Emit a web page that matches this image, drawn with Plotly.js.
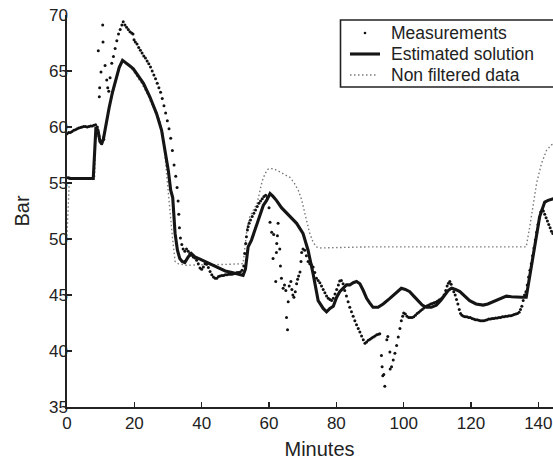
<!DOCTYPE html>
<html>
<head>
<meta charset="utf-8">
<script src="https://cdn.plot.ly/plotly-3.0.1.min.js"></script>
<style>html,body{margin:0;padding:0;overflow:hidden;background:#fff}</style>
</head>
<body>
<div id="chart" style="width:600px;height:460px"></div>
<script>
// ---- Measurements (dots) ----
const measT = [0,0.5,1,1.5,2,2.5,3,3.5,4,4.5,5,5.5,6,6.5,7,7.5,8,8.5,
 9.0,9.3,9.5,9.6,9.7,9.9,10.1,10.3,10.6,10.7,10.9,11.3,11.8,12.1,12.4,
 12.8,13.3,13.8,14.3,14.8,15.3,15.8,16.3,16.7,17.2,17.7,18.2,18.7,19.2,19.6,19.9,20.3,20.8,21.3,21.8,22.3,22.8,23.3,23.8,24.3,24.8,25.3,25.8,26.3,26.8,27.3,27.8,28.3,28.8,29.3,29.8,30.3,30.8,31.3,31.8,32.3,32.7,33.0,33.2,33.4,33.7,34.1,34.5,
 35.0,35.5,36.0,36.5,37.0,37.5,38.0,38.5,39.0,39.5,40.0,40.5,41.0,41.5,42.0,42.5,43.0,43.5,44.0,44.5,45.0,45.5,46.0,46.5,47.0,47.5,48.0,48.5,49.0,49.5,50.0,50.5,51.0,51.5,52.0,52.5,
 52.8,53.1,53.3,53.6,53.8,54.1,54.5,55.0,55.5,56.0,56.5,57.0,57.5,58.0,58.5,59.0,59.5,60.0,
 60.3,60.8,61.2,61.4,62.0,62.2,62.3,62.5,62.7,63.2,63.4,63.7,64.2,64.6,65.0,65.2,65.5,65.7,66.0,66.5,66.8,67.1,67.4,67.8,68.2,68.5,68.8,69.2,69.5,69.7,70.1,70.6,71.1,71.6,72.1,72.6,73.1,73.6,74.1,74.6,75.1,75.6,76.1,76.6,77.1,77.6,78.1,78.6,79.1,79.6,80.1,80.6,81.0,81.5,82.0,82.5,83.0,83.5,84.0,84.5,85.0,85.5,86.0,86.5,87.0,87.5,88.0,88.5,89.0,89.5,90.0,90.5,91.0,91.5,92.0,92.5,92.9,
 93.4,93.6,93.8,94.1,94.4,95.0,95.3,95.9,96.0,
 96.4,96.9,97.4,97.9,98.4,98.9,99.3,99.7,100.0,100.5,101.0,101.5,102.0,102.5,103.0,103.5,104.0,104.5,105.0,105.5,106.0,106.5,107.0,107.5,108.0,108.5,109.0,109.5,110.0,110.5,111.0,111.5,112.0,112.5,112.9,113.3,113.7,114.1,114.5,114.9,115.3,115.7,116.1,116.5,116.9,117.3,117.8,118.3,118.8,119.3,119.8,120.3,120.8,121.3,121.8,122.3,122.8,123.3,123.8,124.3,124.8,125.3,125.8,126.3,126.8,127.3,127.8,128.3,128.8,129.3,129.8,130.3,130.8,131.3,131.8,132.3,132.8,133.3,133.8,134.3,134.7,135.1,135.5,135.9,136.3,136.7,137.1,137.5,137.9,138.3,138.7,139.1,139.5,139.9,140.3,140.7,141.1,141.5,141.9,142.3,142.7,143.1,143.5,143.9,144.3];
const measV = [59.4,59.5,59.5,59.6,59.7,59.75,59.85,59.9,59.95,60.0,60.05,60.05,60.0,60.05,60.1,60.1,60.15,60.2,
 60.0,66.8,59.2,62.7,63.5,58.7,64.9,58.5,69.1,67.6,58.9,65.5,64.2,63.5,63.2,
 64.4,65.7,66.3,67.0,67.7,68.3,68.7,69.1,69.4,69.1,68.9,68.7,68.5,68.4,68.3,67.8,67.6,67.4,67.1,66.85,66.6,66.35,66.15,65.9,65.65,65.35,65.0,64.65,64.3,63.9,63.5,63.1,62.55,61.9,61.25,60.55,59.85,59.0,57.9,56.6,55.6,54.6,53.4,52.2,51.0,50.1,49.5,49.1,
 48.9,49.1,48.9,48.7,48.55,48.4,48.3,48.1,47.8,47.4,47.3,47.5,47.8,47.75,47.45,47.1,46.8,46.6,46.5,46.5,46.65,46.7,46.75,46.75,46.8,46.8,46.85,46.85,46.85,46.9,46.95,47.0,47.0,47.05,47.2,47.6,
 48.7,49.6,50.2,50.8,51.1,51.4,51.7,52.0,52.3,52.6,52.9,53.2,53.4,53.6,53.8,53.9,53.7,52.8,
 51.5,50.6,48.25,50.4,46.2,48.8,49.6,50.3,51.4,49.1,47.6,46.5,45.6,45.9,45.4,43.0,41.9,44.4,45.8,46.2,45.5,45.0,44.8,45.3,46.0,46.4,46.7,47.05,48.0,48.8,49.1,49.0,48.5,48.0,47.8,47.7,47.5,47.0,46.5,46.3,46.1,45.8,45.5,45.2,44.9,44.7,44.6,44.5,44.7,45.1,45.5,45.9,46.25,46.3,46.0,45.4,44.9,44.4,43.9,43.5,43.1,42.7,42.35,42.0,41.7,41.35,41.0,40.7,40.8,40.95,41.05,41.15,41.25,41.35,41.45,41.5,41.55,
 39.6,38.6,37.8,37.9,36.85,41.0,41.3,39.9,38.4,
 38.6,39.2,39.8,40.5,41.25,42.0,42.7,43.1,43.4,43.3,43.1,43.0,43.0,43.0,43.05,43.2,43.35,43.45,43.6,43.7,43.85,43.95,44.05,44.1,44.2,44.25,44.3,44.35,44.45,44.55,44.65,44.75,45.0,45.4,45.8,46.05,46.2,45.95,45.6,45.3,45.0,44.6,44.2,43.7,43.35,43.2,43.1,43.05,43.05,43.0,43.0,42.9,42.85,42.8,42.8,42.75,42.7,42.7,42.7,42.75,42.8,42.85,42.85,42.9,42.9,42.95,42.95,43.0,43.0,43.05,43.05,43.1,43.1,43.15,43.15,43.2,43.25,43.3,43.35,43.45,43.7,44.0,44.5,45.0,45.3,45.9,46.6,47.2,47.8,48.5,49.2,49.9,50.6,51.3,51.9,52.4,52.6,52.5,52.2,51.9,51.6,51.3,51.0,50.7,50.5];

// ---- Estimated solution (thick line) ----
const estT = [0,1,3,5,7,7.8,8.6,9.2,9.8,10.3,10.8,11.5,12.5,13.5,14.5,15.5,16.5,17.5,18.5,19.7,21.2,22.7,24.6,26.6,28.1,29.1,30.1,30.8,31.4,32.1,32.8,33.5,34.2,35.0,36.0,36.9,38.0,39.5,41.0,43.4,45.0,47.0,49.0,51.0,52.3,53.0,53.8,54.8,56.0,57.3,58.3,59.3,60.3,61.2,62.2,63.7,65.2,66.7,68.2,70.1,71.6,73.1,74.6,76.1,77.1,78.1,79.1,80.1,81.0,82.0,83.0,84.0,85.0,86.0,87.0,88.0,89.0,89.9,90.9,92.4,93.9,95.9,97.5,99.3,100.5,101.8,103.0,104.3,105.5,106.8,108.2,109.7,111.0,112.2,113.2,114.2,115.4,116.7,118.0,119.6,121.5,123.6,125.0,126.5,128.5,130.5,132.0,133.5,135.0,136.4,137.4,138.9,140.4,141.9,142.9,144.6];
const estV = [55.5,55.4,55.4,55.4,55.4,55.4,60.0,59.7,58.7,58.5,58.9,60.2,61.7,63.1,64.3,65.3,65.95,65.75,65.5,65.2,64.6,63.9,62.7,61.2,59.7,57.9,56.1,54.35,53.7,50.5,49.0,48.25,48.0,47.9,48.4,48.7,48.4,48.2,48.0,47.65,47.4,47.15,47.0,46.85,46.75,47.3,49.3,49.9,51.0,52.3,53.0,53.45,54.05,53.8,53.45,52.8,52.3,51.8,51.4,50.5,49.0,46.9,44.5,43.8,43.5,43.8,44.0,44.8,45.3,45.6,45.9,45.9,46.1,46.2,46.0,45.4,44.7,44.3,43.9,43.9,44.2,44.7,45.1,45.6,45.5,45.3,44.9,44.5,44.1,43.9,43.9,44.1,44.5,45.0,45.4,45.6,45.5,45.3,44.9,44.5,44.2,44.1,44.2,44.4,44.6,44.9,44.85,44.8,44.8,44.8,46.6,49.6,52.0,53.3,53.45,53.6];

// ---- Non filtered data (dotted grey line) ----
const nfT = [0,0.7,2,4,6,8.2,8.5,9.5,10.0,11.0,13.0,15.0,16.2,17.0,19.2,22.2,24.1,26.1,27.6,28.5,29.3,30.0,30.6,31.3,32.1,33.0,35.5,38,40,43,46,49,52.3,53.0,53.5,54.3,55.5,56.5,57.3,58.0,58.8,59.5,60.3,61.5,63.2,64.5,66.2,67.5,68.7,69.7,71.0,72.0,73.0,74.0,75.0,80,85,90,95,100,105,110,115,120,125,130,134,136.4,137.4,138.4,139.5,140.9,142.4,143.9,144.6];
const nfV = [50.3,55.4,55.4,55.4,55.4,55.4,60.0,59.0,58.6,59.4,62.3,64.6,65.9,65.8,65.2,63.9,62.8,61.4,60.6,59.4,56.6,54.0,52.6,50.2,48.0,47.8,47.65,47.7,47.7,47.7,47.7,47.75,47.8,49.5,51.0,52.0,52.6,53.2,54.3,55.2,55.8,56.2,56.3,56.25,56.0,55.8,55.5,55.0,54.35,53.5,51.8,50.6,49.8,49.3,49.2,49.25,49.25,49.3,49.3,49.3,49.3,49.3,49.3,49.3,49.3,49.3,49.3,49.3,51.0,52.9,55.0,56.7,57.9,58.4,58.5];

const seriesNames = ['Measurements', 'Estimated solution', 'Non filtered data'];
const xTicks = [0,20,40,60,80,100,120,140];
const yTicks = [35,40,45,50,55,60,65,70];

const FONT = 'Liberation Sans, Arial, Helvetica, sans-serif';
const INK = '#222';
const NF_LINE = {color: '#7a7a7a', width: 1.4, dash: '1.5px,2.5px'};
const EST_LINE = {color: '#151515', width: 3.1};

const traces = [
  {x: nfT, y: nfV, name: seriesNames[2], mode: 'lines', line: NF_LINE},
  {x: measT, y: measV, name: seriesNames[0], mode: 'markers', marker: {color: '#111', size: 3}},
  {x: estT, y: estV, name: seriesNames[1], mode: 'lines', line: EST_LINE}
];

// plot-area geometry (pixels) used to place the hand-drawn legend box
const L = 67, T = 15, PW = 505, PH = 392;
const px = v => (v - L) / PW;           // pixel x -> paper x
const py = v => (T + PH - v) / PH;      // pixel y -> paper y

const rowY = [33, 54, 75];
const shapes = [
  {type: 'rect', xref: 'paper', yref: 'paper', x0: px(340.5), x1: px(590), y0: py(87), y1: py(20),
   fillcolor: '#fff', line: {color: INK, width: 1.6}, layer: 'above'},
  {type: 'circle', xref: 'paper', yref: 'paper', xsizemode: 'pixel', ysizemode: 'pixel',
   xanchor: px(365), yanchor: py(rowY[0]), x0: -1.3, x1: 1.3, y0: -1.3, y1: 1.3,
   fillcolor: '#111', line: {width: 0}},
  {type: 'line', xref: 'paper', yref: 'paper', x0: px(350), x1: px(380), y0: py(rowY[1]), y1: py(rowY[1]),
   line: EST_LINE},
  {type: 'line', xref: 'paper', yref: 'paper', x0: px(350), x1: px(378), y0: py(rowY[2]), y1: py(rowY[2]),
   line: NF_LINE}
];
const annotations = seriesNames.map((n, i) => ({
  text: n, xref: 'paper', yref: 'paper', x: px(389), y: py(rowY[i]),
  xanchor: 'left', yanchor: 'middle', showarrow: false,
  font: {family: FONT, size: 17.5, color: INK}
}));

const axisCommon = {
  showline: true, linecolor: INK, linewidth: 1.6, mirror: false,
  ticks: 'inside', ticklen: 5, tickwidth: 1.2, tickcolor: INK,
  showgrid: false, zeroline: false,
  tickfont: {family: FONT, size: 17, color: INK}
};

const layout = {
  width: 600, height: 460,
  margin: {l: L, r: 600 - L - PW, t: T, b: 460 - T - PH},
  paper_bgcolor: '#fff', plot_bgcolor: '#fff',
  font: {family: FONT, color: INK},
  showlegend: false,
  shapes: shapes,
  annotations: annotations,
  xaxis: Object.assign({}, axisCommon, {
    range: [0, 150], tickvals: xTicks, ticktext: xTicks.map(String),
    title: {text: 'Minutes', font: {family: FONT, size: 20, color: INK}, standoff: 10}
  }),
  yaxis: Object.assign({}, axisCommon, {
    range: [35, 70], tickvals: yTicks, ticktext: yTicks.map(String), ticklabelstandoff: -6,
    title: {text: 'Bar', font: {family: FONT, size: 20, color: INK}, standoff: 14}
  })
};

Plotly.newPlot('chart', traces, layout, {displayModeBar: false, staticPlot: true});
</script>
</body>
</html>
